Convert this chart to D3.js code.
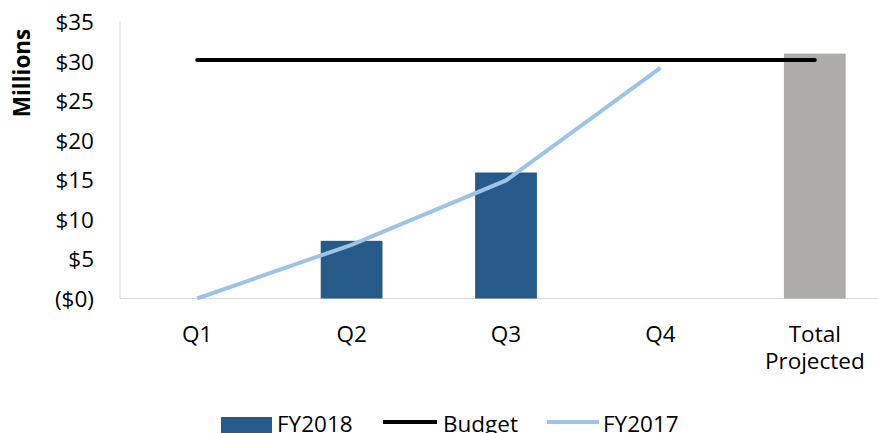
<!DOCTYPE html>
<html>
  <head>
    <meta charset="utf-8">
    <title>Budget vs FY2018</title>
    <style>
      body { margin: 0; background: #fff; }
      text { font-family: "Open Sans", "Liberation Sans", sans-serif; fill: #000; }
    </style>
    <script src="https://cdn.jsdelivr.net/npm/d3@7"></script>
  </head>
  <body>
    <script>
      // data (millions)
      var categories = ["Q1", "Q2", "Q3", "Q4", "Total Projected"];
      var fy2018 = [null, 7.3, 15.95, null, 31.0];
      var budget = [30.2, 30.2, 30.2, 30.2, 30.2];
      var fy2017 = [0, 6.8, 14.95, 29.2, null];
      var yTicks = [0, 5, 10, 15, 20, 25, 30, 35];

      var width = 878, height = 433;
      var plotLeft = 120, plotRight = 892, plotTop = 22, plotBottom = 298.5;
      var fs = "22.5px";

      var svg = d3.select("body").append("svg")
          .attr("width", width)
          .attr("height", height);

      var x = d3.scalePoint()
          .domain(categories)
          .range([plotLeft, plotRight])
          .padding(0.5);
      var barW = x.step() * 0.4;

      var y = d3.scaleLinear()
          .domain([0, 35])
          .range([plotBottom, plotTop]);

      // axis lines
      svg.append("line")
          .attr("x1", plotLeft).attr("x2", width)
          .attr("y1", plotBottom).attr("y2", plotBottom)
          .attr("stroke", "#d9d9d9");
      svg.append("line")
          .attr("x1", plotLeft).attr("x2", plotLeft)
          .attr("y1", plotTop).attr("y2", plotBottom)
          .attr("stroke", "#d9d9d9");

      // y tick labels
      svg.selectAll(".ytick")
          .data(yTicks)
        .enter().append("text")
          .attr("class", "ytick")
          .attr("x", 94)
          .attr("y", function(d) { return y(d); })
          .attr("dy", "0.36em")
          .attr("text-anchor", "end")
          .style("font-size", fs)
          .text(function(d) { return d === 0 ? "($0)" : "$" + d; });

      svg.append("text")
          .attr("transform", "translate(30,73) rotate(-90)")
          .attr("text-anchor", "middle")
          .style("font-size", "22.5px")
          .style("font-weight", "bold")
          .text("Millions");

      // x labels
      var xl = svg.selectAll(".xlab")
          .data(categories)
        .enter().append("text")
          .attr("class", "xlab")
          .attr("text-anchor", "middle")
          .attr("y", 342)
          .style("font-size", fs);
      xl.each(function(d) {
        var words = d.split(" ");
        var t = d3.select(this);
        words.forEach(function(w, i) {
          t.append("tspan")
            .attr("x", x(d))
            .attr("dy", i === 0 ? 0 : 27)
            .text(w);
        });
      });

      // bars
      svg.selectAll(".bar")
          .data(categories.filter(function(c, i) { return fy2018[i] != null; }))
        .enter().append("rect")
          .attr("class", "bar")
          .attr("x", function(d) { return x(d) - barW / 2; })
          .attr("width", barW)
          .attr("y", function(d) { return y(fy2018[categories.indexOf(d)]); })
          .attr("height", function(d) { return plotBottom - y(fy2018[categories.indexOf(d)]); })
          .attr("fill", function(d) { return d === "Total Projected" ? "#afabab" : "#255a89"; });

      // lines
      var line = d3.line()
          .defined(function(d) { return d[1] != null; })
          .x(function(d) { return x(d[0]); })
          .y(function(d) { return y(d[1]); });

      svg.append("path")
          .datum(categories.map(function(c, i) { return [c, fy2017[i]]; }))
          .attr("d", line)
          .attr("fill", "none")
          .attr("stroke", "#9dc3e6")
          .attr("stroke-width", 4);

      svg.append("path")
          .datum(categories.map(function(c, i) { return [c, budget[i]]; }))
          .attr("d", line)
          .attr("fill", "none")
          .attr("stroke", "#000")
          .attr("stroke-width", 4)
          .attr("stroke-linecap", "round");

      // legend
      var lg = svg.append("g");
      lg.append("rect")
          .attr("x", 221).attr("y", 417)
          .attr("width", 51).attr("height", 20)
          .attr("fill", "#255a89");
      lg.append("text").attr("x", 277).attr("y", 432).style("font-size", fs).text("FY2018");
      lg.append("line")
          .attr("x1", 383).attr("x2", 437).attr("y1", 422).attr("y2", 422)
          .attr("stroke", "#000").attr("stroke-width", 4);
      lg.append("text").attr("x", 443).attr("y", 432).style("font-size", fs).text("Budget");
      lg.append("line")
          .attr("x1", 547).attr("x2", 599).attr("y1", 422).attr("y2", 422)
          .attr("stroke", "#9dc3e6").attr("stroke-width", 4);
      lg.append("text").attr("x", 603).attr("y", 432).style("font-size", fs).text("FY2017");
    </script>
  </body>
</html>
